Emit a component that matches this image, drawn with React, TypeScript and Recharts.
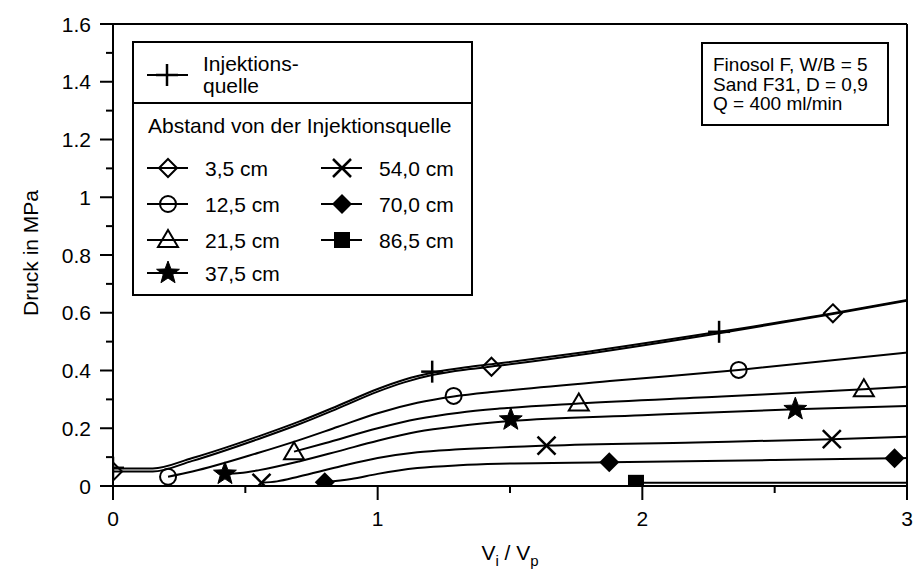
import React from 'react';
import { ComposedChart, Line, Scatter, XAxis, YAxis, ReferenceLine } from 'recharts';

const FONT = '"Liberation Sans", Arial, Helvetica, sans-serif';

// ---- tick values ----
const xTicks = [0, 0.5, 1, 1.5, 2, 2.5, 3];
const yTicks = [0, 0.1, 0.2, 0.3, 0.4, 0.5, 0.6, 0.7, 0.8, 0.9, 1, 1.1, 1.2, 1.3, 1.4, 1.5, 1.6];

// ---- Injektionsquelle (+) ----
const injX = [0, 0.15, 0.3, 0.55, 0.7, 0.85, 1.0, 1.1, 1.21, 1.35, 1.46, 1.8, 2.29, 2.72, 3.0];
const injY = [0.061, 0.061, 0.097, 0.172, 0.222, 0.278, 0.336, 0.368, 0.393, 0.413, 0.425, 0.466, 0.534, 0.598, 0.644];
const injMarkX = [0, 1.206, 2.29];
const injMarkY = [0.063, 0.396, 0.534];

// ---- 3,5 cm (open diamond) ----
const d35X = [0, 0.15, 0.3, 0.55, 0.7, 0.85, 1.0, 1.1, 1.21, 1.35, 1.46, 1.8, 2.29, 2.72, 3.0];
const d35Y = [0.05, 0.05, 0.087, 0.163, 0.213, 0.269, 0.327, 0.359, 0.385, 0.405, 0.417, 0.459, 0.529, 0.596, 0.642];
const d35MarkX = [0, 1.43, 2.72];
const d35MarkY = [0.05, 0.413, 0.598];

// ---- 12,5 cm (circle) ----
const c125X = [0.208, 0.3, 0.55, 0.7, 0.85, 1.0, 1.15, 1.287, 1.46, 1.9, 2.364, 3.0];
const c125Y = [0.032, 0.05, 0.115, 0.158, 0.205, 0.252, 0.288, 0.31, 0.328, 0.365, 0.402, 0.462];
const c125MarkX = [0.208, 1.287, 2.364];
const c125MarkY = [0.032, 0.312, 0.402];

// ---- 21,5 cm (triangle) ----
const t215X = [0.684, 0.8, 1.0, 1.15, 1.308, 1.46, 1.76, 2.3, 2.837, 3.0];
const t215Y = [0.119, 0.148, 0.2, 0.232, 0.254, 0.268, 0.286, 0.31, 0.335, 0.344];
const t215MarkX = [0.684, 1.76, 2.837];
const t215MarkY = [0.117, 0.286, 0.335];

// ---- 37,5 cm (star) ----
const s375X = [0.423, 0.48, 0.552, 0.703, 0.85, 1.0, 1.15, 1.308, 1.5, 2.0, 2.578, 3.0];
const s375Y = [0.042, 0.045, 0.055, 0.085, 0.12, 0.157, 0.188, 0.208, 0.225, 0.245, 0.266, 0.277];
const s375MarkX = [0.423, 1.503, 2.578];
const s375MarkY = [0.042, 0.23, 0.266];

// ---- 54,0 cm (x) ----
const x540X = [0.561, 0.62, 0.703, 0.85, 1.0, 1.15, 1.308, 1.638, 2.2, 2.716, 3.0];
const x540Y = [0.011, 0.016, 0.033, 0.066, 0.097, 0.117, 0.127, 0.14, 0.151, 0.162, 0.171];
const x540MarkX = [0.561, 1.638, 2.716];
const x540MarkY = [0.011, 0.14, 0.162];

// ---- 70,0 cm (filled diamond) ----
const d700X = [0.8, 0.9, 1.0, 1.15, 1.308, 1.46, 1.875, 2.5, 2.953, 3.0];
const d700Y = [0.013, 0.024, 0.042, 0.062, 0.072, 0.077, 0.082, 0.09, 0.096, 0.097];
const d700MarkX = [0.8, 1.875, 2.953];
const d700MarkY = [0.013, 0.082, 0.096];

// ---- 86,5 cm (filled square) ----
const q865X = [1.976, 3.0];
const q865Y = [0.011, 0.011];
const q865MarkX = [1.976];
const q865MarkY = [0.011];

// ---- labels ----
const sourceLabel = ['Injektions-', 'quelle'];
const groupTitle = 'Abstand von der Injektionsquelle';
const distLabels = ['3,5 cm', '12,5 cm', '21,5 cm', '37,5 cm', '54,0 cm', '70,0 cm', '86,5 cm'];
const infoLines = ['Finosol F, W/B = 5', 'Sand F31, D = 0,9', 'Q = 400 ml/min'];
const yAxisTitle = 'Druck in MPa';

type Kind = 'plus' | 'diamondOpen' | 'circle' | 'triangle' | 'star' | 'cross' | 'diamondFilled' | 'square';

const zip = (xs: number[], ys: number[]) => xs.map((x, i) => ({ x, y: ys[i] }));

const series: { key: string; kind: Kind; curve: { x: number; y: number }[]; marks: { x: number; y: number }[] }[] = [
  { key: 'inj', kind: 'plus', curve: zip(injX, injY), marks: zip(injMarkX, injMarkY) },
  { key: 'd35', kind: 'diamondOpen', curve: zip(d35X, d35Y), marks: zip(d35MarkX, d35MarkY) },
  { key: 'c125', kind: 'circle', curve: zip(c125X, c125Y), marks: zip(c125MarkX, c125MarkY) },
  { key: 't215', kind: 'triangle', curve: zip(t215X, t215Y), marks: zip(t215MarkX, t215MarkY) },
  { key: 's375', kind: 'star', curve: zip(s375X, s375Y), marks: zip(s375MarkX, s375MarkY) },
  { key: 'x540', kind: 'cross', curve: zip(x540X, x540Y), marks: zip(x540MarkX, x540MarkY) },
  { key: 'd700', kind: 'diamondFilled', curve: zip(d700X, d700Y), marks: zip(d700MarkX, d700MarkY) },
  { key: 'q865', kind: 'square', curve: zip(q865X, q865Y), marks: zip(q865MarkX, q865MarkY) },
];

const starPoints = (cx: number, cy: number, ro: number, ri: number) => {
  const pts: string[] = [];
  for (let i = 0; i < 10; i++) {
    const r = i % 2 === 0 ? ro : ri;
    const a = -Math.PI / 2 + (i * Math.PI) / 5;
    pts.push(`${cx + r * Math.cos(a)},${cy + r * Math.sin(a)}`);
  }
  return pts.join(' ');
};

function Marker({ kind, cx, cy }: { kind: Kind; cx: number; cy: number }) {
  switch (kind) {
    case 'plus':
      return (
        <g stroke="#000" strokeWidth={2.5}>
          <line x1={cx - 11} x2={cx + 11} y1={cy} y2={cy} />
          <line x1={cx} x2={cx} y1={cy - 11} y2={cy + 11} />
        </g>
      );
    case 'diamondOpen':
      return <polygon points={`${cx},${cy - 9} ${cx + 9},${cy} ${cx},${cy + 9} ${cx - 9},${cy}`} fill="none" stroke="#000" strokeWidth={2} />;
    case 'circle':
      return <circle cx={cx} cy={cy} r={8} fill="none" stroke="#000" strokeWidth={2} />;
    case 'triangle':
      return <polygon points={`${cx},${cy - 10} ${cx + 10},${cy + 7} ${cx - 10},${cy + 7}`} fill="none" stroke="#000" strokeWidth={2} />;
    case 'star':
      return <polygon points={starPoints(cx, cy, 12, 5)} fill="#000" stroke="#000" strokeWidth={1} />;
    case 'cross':
      return (
        <g stroke="#000" strokeWidth={2.5}>
          <line x1={cx - 9} x2={cx + 9} y1={cy - 9} y2={cy + 9} />
          <line x1={cx - 9} x2={cx + 9} y1={cy + 9} y2={cy - 9} />
        </g>
      );
    case 'diamondFilled':
      return <polygon points={`${cx},${cy - 10} ${cx + 10},${cy} ${cx},${cy + 10} ${cx - 10},${cy}`} fill="#000" />;
    case 'square':
      return <rect x={cx - 8} y={cy - 8} width={16} height={16} fill="#000" />;
  }
  return null;
}

const XTick = (props: any) => {
  const { x, y, payload } = props;
  const v = payload.value;
  const major = Number.isInteger(v);
  return (
    <g>
      <line x1={x} x2={x} y1={y} y2={y + (major ? 14 : 7)} stroke="#000" strokeWidth={2} />
      {major && (
        <text x={x} y={y + 40} textAnchor="middle" fontFamily={FONT} fontSize={21} fill="#000">
          {String(v)}
        </text>
      )}
    </g>
  );
};

const YTick = (props: any) => {
  const { x, y, payload } = props;
  const v = payload.value;
  const major = Math.round(v * 10) % 2 === 0;
  return (
    <g>
      <line x1={x - (major ? 13 : 7)} x2={x} y1={y} y2={y} stroke="#000" strokeWidth={2} />
      {major && (
        <text x={x - 22} y={y + 7.5} textAnchor="end" fontFamily={FONT} fontSize={21} fill="#000">
          {String(v)}
        </text>
      )}
    </g>
  );
};

const W = 914;
const H = 572;

export default function App() {
  const legendLeft = [
    { kind: 'diamondOpen' as Kind, label: distLabels[0], cy: 168 },
    { kind: 'circle' as Kind, label: distLabels[1], cy: 204 },
    { kind: 'triangle' as Kind, label: distLabels[2], cy: 240 },
    { kind: 'star' as Kind, label: distLabels[3], cy: 273 },
  ];
  const legendRight = [
    { kind: 'cross' as Kind, label: distLabels[4], cy: 168 },
    { kind: 'diamondFilled' as Kind, label: distLabels[5], cy: 204 },
    { kind: 'square' as Kind, label: distLabels[6], cy: 240 },
  ];
  return (
    <div style={{ position: 'absolute', left: 0, top: 0, width: W, height: H, background: '#fff' }}>
      <ComposedChart width={W} height={H} margin={{ top: 24, right: 7, bottom: 26, left: 53 }}>
        <XAxis
          type="number"
          dataKey="x"
          domain={[0, 3]}
          ticks={xTicks}
          interval={0}
          height={60}
          tickSize={0}
          tickMargin={0}
          tickLine={false}
          axisLine={{ stroke: '#000', strokeWidth: 2 }}
          tick={<XTick />}
          allowDataOverflow
        />
        <YAxis
          type="number"
          dataKey="y"
          domain={[0, 1.6]}
          ticks={yTicks}
          interval={0}
          width={60}
          tickSize={0}
          tickMargin={0}
          tickLine={false}
          axisLine={{ stroke: '#000', strokeWidth: 2 }}
          tick={<YTick />}
          allowDataOverflow
        />
        <ReferenceLine y={1.6} stroke="#000" strokeWidth={2} />
        <ReferenceLine x={3} stroke="#000" strokeWidth={2} />
        {series.map((s) => (
          <Line
            key={s.key + '-line'}
            data={s.curve}
            dataKey="y"
            type="monotone"
            stroke="#000"
            strokeWidth={2}
            dot={false}
            activeDot={false}
            isAnimationActive={false}
          />
        ))}
        {series.map((s) => (
          <Scatter
            key={s.key + '-marks'}
            data={s.marks}
            dataKey="y"
            isAnimationActive={false}
            shape={(p: any) => <Marker kind={s.kind} cx={p.cx} cy={p.cy} />}
          />
        ))}
      </ComposedChart>
      <svg
        width={W}
        height={H}
        style={{ position: 'absolute', left: 0, top: 0, pointerEvents: 'none' }}
        fontFamily={FONT}
      >
        {/* axis titles */}
        <text
          x={30}
          y={253}
          transform="rotate(-90, 30, 253)"
          textAnchor="middle"
          dominantBaseline="central"
          fontSize={21}
          fill="#000"
        >
          {yAxisTitle}
        </text>
        <text x={510} y={560} textAnchor="middle" fontSize={21} fill="#000">
          V<tspan dy={6} fontSize={15}>i</tspan>
          <tspan dy={-6}> / V</tspan>
          <tspan dy={6} fontSize={15}>p</tspan>
        </text>

        {/* legend */}
        <rect x={133} y={42} width={339} height={253} fill="#fff" stroke="#000" strokeWidth={2} />
        <line x1={133} x2={472} y1={103} y2={103} stroke="#000" strokeWidth={2} />
        <line x1={147} x2={188} y1={75} y2={75} stroke="#000" strokeWidth={2} />
        <Marker kind="plus" cx={167} cy={75} />
        <text x={203} y={71} fontSize={21} fill="#000">{sourceLabel[0]}</text>
        <text x={203} y={93} fontSize={21} fill="#000">{sourceLabel[1]}</text>
        <text x={148} y={133} fontSize={21} fill="#000">{groupTitle}</text>
        {legendLeft.map((e) => (
          <g key={e.label}>
            <line x1={147} x2={188} y1={e.cy} y2={e.cy} stroke="#000" strokeWidth={2} />
            <Marker kind={e.kind} cx={168} cy={e.cy} />
            <text x={205} y={e.cy + 7.5} fontSize={21} fill="#000">{e.label}</text>
          </g>
        ))}
        {legendRight.map((e) => (
          <g key={e.label}>
            <line x1={321} x2={362} y1={e.cy} y2={e.cy} stroke="#000" strokeWidth={2} />
            <Marker kind={e.kind} cx={342} cy={e.cy} />
            <text x={379} y={e.cy + 7.5} fontSize={21} fill="#000">{e.label}</text>
          </g>
        ))}

        {/* info box */}
        <rect x={702} y={43} width={186} height={82} fill="#fff" stroke="#000" strokeWidth={2} />
        {infoLines.map((t, i) => (
          <text key={t} x={713} y={71 + i * 19.5} fontSize={19} fill="#000">{t}</text>
        ))}
      </svg>
    </div>
  );
}
